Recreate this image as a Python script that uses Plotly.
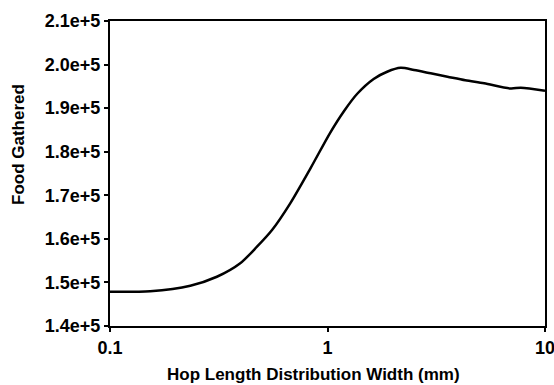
import plotly.graph_objects as go

hop_width = [0.1, 0.153, 0.234, 0.31, 0.397, 0.474, 0.556, 0.674, 0.835, 1.03, 1.19, 1.37,
             1.63, 1.88, 2.17, 2.50, 2.98, 3.56, 4.3, 5.25, 6.97, 7.74, 10.0]
food = [147870, 148000, 149250, 151300, 154400, 158200, 162030, 168160, 176190, 184400,
        189300, 193300, 196700, 198360, 199250, 198750, 198000, 197220, 196400, 195700,
        194500, 194700, 194000]

y_tickvals = [140000, 150000, 160000, 170000, 180000, 190000, 200000, 210000]
y_ticktext = ["1.4e+5", "1.5e+5", "1.6e+5", "1.7e+5", "1.8e+5", "1.9e+5", "2.0e+5", "2.1e+5"]
x_tickvals = [0.1, 1, 10]
x_ticktext = ["0.1", "1", "10"]
x_title = "Hop Length Distribution Width (mm)"
y_title = "Food Gathered"

font_family = "Liberation Sans, Arial, sans-serif"

fig = go.Figure(go.Scatter(x=hop_width, y=food, mode="lines",
                           line=dict(color="black", width=2.5, shape="spline", smoothing=0.8)))

axis_common = dict(showgrid=False, zeroline=False, showline=True, linecolor="black", linewidth=2,
                   mirror=True, ticks="outside", ticklen=4, tickwidth=2, tickcolor="black",
                   automargin=False, ticklabeloverflow="allow",
                   tickfont=dict(family=font_family, size=18, color="black", weight="bold"))

fig.update_layout(
    width=554, height=385,
    margin=dict(l=110, r=9, t=21, b=59),
    paper_bgcolor="white", plot_bgcolor="white",
    showlegend=False,
    font=dict(family=font_family, color="black", size=17),
    xaxis=dict(type="log", range=[-1, 1], tickvals=x_tickvals, ticktext=x_ticktext, **axis_common),
    yaxis=dict(range=[140000, 210000], tickvals=y_tickvals, ticktext=y_ticktext, **axis_common),
    annotations=[
        dict(text="<b>" + x_title + "</b>", xref="paper", yref="paper",
             x=(313 - 110) / 435, y=-(374 - 326) / 305, xanchor="center", yanchor="middle",
             showarrow=False, font=dict(family=font_family, size=17, color="black")),
        dict(text="<b>" + y_title + "</b>", xref="paper", yref="paper",
             x=-(110 - 18) / 435, y=(326 - 145) / 305, xanchor="center", yanchor="middle",
             textangle=-90, showarrow=False,
             font=dict(family=font_family, size=17, color="black")),
    ],
)

fig.write_html("out.html")
